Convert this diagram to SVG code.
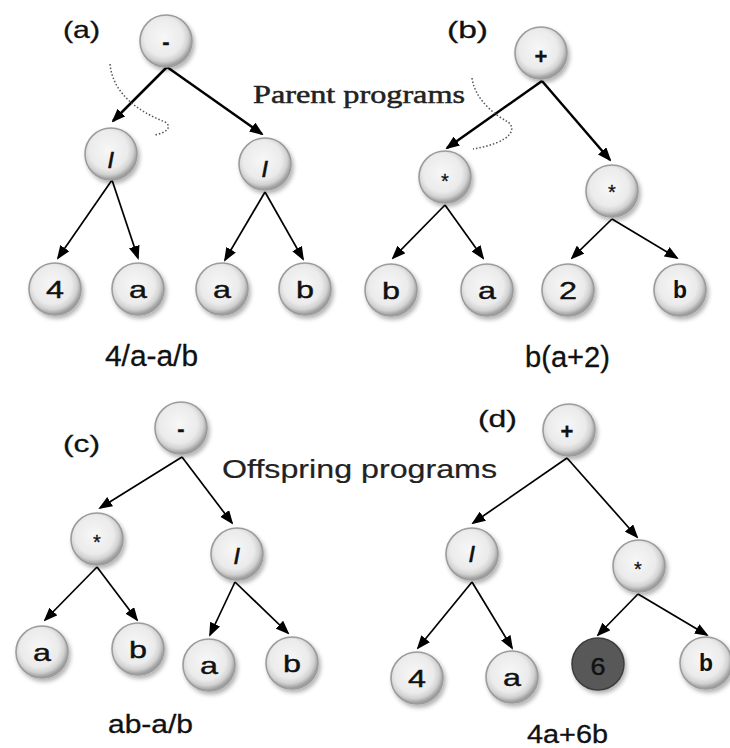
<svg xmlns="http://www.w3.org/2000/svg" width="730" height="748" viewBox="0 0 730 748">
<defs>
<radialGradient id="g" cx="45%" cy="42%" r="56%">
<stop offset="0" stop-color="#f7f7f7"/>
<stop offset="0.66" stop-color="#ebebeb"/>
<stop offset="0.85" stop-color="#d2d2d2"/>
<stop offset="1" stop-color="#9e9e9e"/>
</radialGradient>
<filter id="sh" x="-30%" y="-30%" width="170%" height="170%">
<feDropShadow dx="2" dy="3" stdDeviation="2" flood-color="#000" flood-opacity="0.3"/>
</filter>
<marker id="ah" viewBox="0 0 14 11" refX="12" refY="5.5" markerWidth="14" markerHeight="11" markerUnits="userSpaceOnUse" orient="auto">
<path d="M0,0 L14,5.5 L0,11 Z" fill="#000"/>
</marker>
</defs>
<style>
.n{fill:url(#g);stroke:#9c9c9c;stroke-width:1.6;filter:url(#sh)}
.dk{fill:#595959;stroke:#3c3c3c;stroke-width:1.5;filter:url(#sh)}
text{stroke:#111;stroke-width:0.3}
.t{font-family:"Liberation Sans",Arial,sans-serif;font-size:24px;fill:#111;text-anchor:middle;stroke-width:0.4}
.sb{font-family:"Liberation Sans",Arial,sans-serif;font-size:23px;font-weight:bold;fill:#111;text-anchor:middle;stroke-width:0}
.op{font-family:"Liberation Sans",Arial,sans-serif;font-size:22px;font-weight:bold;fill:#111;text-anchor:middle}
.st{font-family:"Liberation Sans",Arial,sans-serif;font-size:20px;fill:#111;text-anchor:middle}
.lb{font-family:"Liberation Sans",Arial,sans-serif;font-size:24px;fill:#111}
.ex{font-family:"Liberation Sans",Arial,sans-serif;fill:#111;text-anchor:middle}
.pp{font-family:"Liberation Serif","Times New Roman",serif;font-size:26px;fill:#222;stroke:#222;stroke-width:0.5}
.of{font-family:"Liberation Sans",Arial,sans-serif;font-size:25px;fill:#222;stroke:#222;stroke-width:0.2}
.e{stroke:#000;stroke-width:1.7;fill:none;marker-end:url(#ah)}
.e2{stroke:#000;stroke-width:2.5;fill:none;marker-end:url(#ah)}
.dot{stroke:#555;stroke-width:1.5;fill:none;stroke-dasharray:1.5 2}
</style>

<g id="connectors">
<line class="e2" x1="167" y1="67" x2="113" y2="121"/>
<line class="e2" x1="167" y1="67" x2="262" y2="134"/>
<line class="e" x1="112" y1="180" x2="58" y2="258"/>
<line class="e" x1="112" y1="180" x2="138" y2="258"/>
<line class="e" x1="265" y1="192" x2="225" y2="260"/>
<line class="e" x1="265" y1="192" x2="303" y2="259"/>

<line class="e2" x1="542" y1="81" x2="447" y2="148"/>
<line class="e2" x1="542" y1="81" x2="610" y2="160"/>
<line class="e" x1="445" y1="205" x2="393" y2="258"/>
<line class="e" x1="445" y1="205" x2="483" y2="258"/>
<line class="e" x1="612" y1="219" x2="572" y2="258"/>
<line class="e" x1="612" y1="219" x2="677" y2="258"/>

<line class="e" x1="182" y1="457" x2="100" y2="508"/>
<line class="e" x1="182" y1="457" x2="232" y2="523"/>
<line class="e" x1="97" y1="567" x2="45" y2="620"/>
<line class="e" x1="97" y1="567" x2="137" y2="620"/>
<line class="e" x1="235" y1="582" x2="210" y2="635"/>
<line class="e" x1="235" y1="582" x2="288" y2="633"/>

<line class="e" x1="567" y1="458" x2="473" y2="523"/>
<line class="e" x1="567" y1="458" x2="637" y2="537"/>
<line class="e" x1="472" y1="582" x2="418" y2="648"/>
<line class="e" x1="472" y1="582" x2="512" y2="648"/>
<line class="e" x1="638" y1="594" x2="598" y2="635"/>
<line class="e" x1="638" y1="594" x2="707" y2="635"/>
</g>

<g id="cut-marks">
<path class="dot" d="M110,64 C113,95 140,112 165,122 C172,126 168,133 154,135"/>
<path class="dot" d="M472,78 C475,100 495,115 508,122 C516,128 514,142 473,149"/>
</g>

<g id="labels">
<text class="lb" x="63" y="38" textLength="37" lengthAdjust="spacingAndGlyphs">(a)</text>
<text class="lb" x="447" y="38" textLength="41" lengthAdjust="spacingAndGlyphs">(b)</text>
<text class="lb" x="63" y="452" textLength="37" lengthAdjust="spacingAndGlyphs">(c)</text>
<text class="lb" x="478" y="427" textLength="39" lengthAdjust="spacingAndGlyphs">(d)</text>
<text class="pp" x="253" y="103" textLength="212" lengthAdjust="spacingAndGlyphs">Parent programs</text>
<text class="of" x="222" y="478" textLength="275" lengthAdjust="spacingAndGlyphs">Offspring programs</text>
<text class="ex" x="151.5" y="366" font-size="30" textLength="93" lengthAdjust="spacingAndGlyphs">4/a-a/b</text>
<text class="ex" x="567.5" y="367" font-size="29" textLength="85" lengthAdjust="spacingAndGlyphs">b(a+2)</text>
<text class="ex" x="150.5" y="733" font-size="25" textLength="85" lengthAdjust="spacingAndGlyphs">ab-a/b</text>
<text class="ex" x="567.5" y="743" font-size="25" textLength="81" lengthAdjust="spacingAndGlyphs">4a+6b</text>
</g>

<g id="a-root"><circle class="n" cx="166" cy="41" r="26"/><text class="op" x="166" y="49">-</text></g>
<g id="a-div1"><circle class="n" cx="111" cy="154" r="26"/><text class="op" x="111" y="168">/</text></g>
<g id="a-div2"><circle class="n" cx="265" cy="164" r="26"/><text class="op" x="265" y="177">/</text></g>
<g id="a-4"><circle class="n" cx="55" cy="289" r="26"/><text class="t" x="55" y="298" textLength="18" lengthAdjust="spacingAndGlyphs">4</text></g>
<g id="a-a1"><circle class="n" cx="138" cy="289" r="26"/><text class="t" x="138" y="298" textLength="18" lengthAdjust="spacingAndGlyphs">a</text></g>
<g id="a-a2"><circle class="n" cx="222" cy="289" r="26"/><text class="t" x="222" y="298" textLength="18" lengthAdjust="spacingAndGlyphs">a</text></g>
<g id="a-b"><circle class="n" cx="305" cy="289" r="26"/><text class="t" x="305" y="298" textLength="18" lengthAdjust="spacingAndGlyphs">b</text></g>

<g id="b-root"><circle class="n" cx="541" cy="53" r="26"/><text class="op" x="541" y="64">+</text></g>
<g id="b-mul1"><circle class="n" cx="445" cy="177" r="26"/><text class="st" x="445" y="188">*</text></g>
<g id="b-mul2"><circle class="n" cx="612" cy="191" r="26"/><text class="st" x="612" y="199">*</text></g>
<g id="b-b1"><circle class="n" cx="391" cy="290" r="26"/><text class="t" x="391" y="299" textLength="18" lengthAdjust="spacingAndGlyphs">b</text></g>
<g id="b-a"><circle class="n" cx="487" cy="290" r="26"/><text class="t" x="487" y="299" textLength="18" lengthAdjust="spacingAndGlyphs">a</text></g>
<g id="b-2"><circle class="n" cx="568" cy="290" r="26"/><text class="t" x="568" y="299" textLength="18" lengthAdjust="spacingAndGlyphs">2</text></g>
<g id="b-b2"><circle class="n" cx="680" cy="290" r="26"/><text class="sb" x="680" y="298" textLength="14" lengthAdjust="spacingAndGlyphs">b</text></g>

<g id="c-root"><circle class="n" cx="181" cy="428" r="26"/><text class="op" x="181" y="436">-</text></g>
<g id="c-mul"><circle class="n" cx="97" cy="539" r="26"/><text class="st" x="97" y="549">*</text></g>
<g id="c-div"><circle class="n" cx="237" cy="554" r="26"/><text class="op" x="237" y="564">/</text></g>
<g id="c-a1"><circle class="n" cx="42" cy="652" r="26"/><text class="t" x="42" y="661" textLength="18" lengthAdjust="spacingAndGlyphs">a</text></g>
<g id="c-b1"><circle class="n" cx="138" cy="649" r="26"/><text class="t" x="138" y="658" textLength="18" lengthAdjust="spacingAndGlyphs">b</text></g>
<g id="c-a2"><circle class="n" cx="209" cy="665" r="26"/><text class="t" x="209" y="674" textLength="18" lengthAdjust="spacingAndGlyphs">a</text></g>
<g id="c-b2"><circle class="n" cx="292" cy="663" r="26"/><text class="t" x="292" y="672" textLength="18" lengthAdjust="spacingAndGlyphs">b</text></g>

<g id="d-root"><circle class="n" cx="569" cy="430" r="26"/><text class="op" x="567" y="439">+</text></g>
<g id="d-div"><circle class="n" cx="472" cy="554" r="26"/><text class="op" x="472" y="562">/</text></g>
<g id="d-mul"><circle class="n" cx="639" cy="566" r="26"/><text class="st" x="638" y="576">*</text></g>
<g id="d-4"><circle class="n" cx="417" cy="678" r="26"/><text class="t" x="417" y="687" textLength="18" lengthAdjust="spacingAndGlyphs">4</text></g>
<g id="d-a"><circle class="n" cx="512" cy="677" r="26"/><text class="t" x="512" y="686" textLength="18" lengthAdjust="spacingAndGlyphs">a</text></g>
<g id="d-6"><circle class="dk" cx="598" cy="664" r="26"/><text class="t" x="598" y="675" font-size="27" textLength="15" lengthAdjust="spacingAndGlyphs">6</text></g>
<g id="d-b"><circle class="n" cx="706" cy="663" r="26"/><text class="sb" x="706" y="671" textLength="14" lengthAdjust="spacingAndGlyphs">b</text></g>
</svg>
